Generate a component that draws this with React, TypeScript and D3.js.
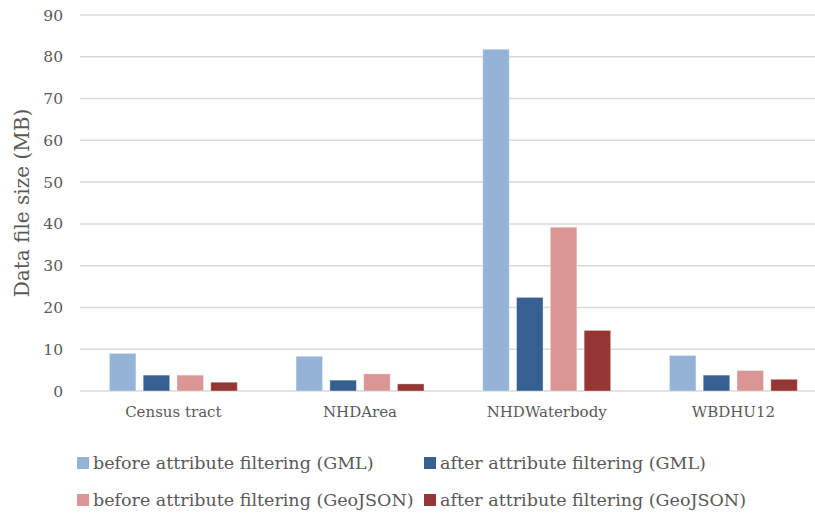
import React from "react";
import * as d3 from "d3";

const categories = ["Census tract", "NHDArea", "NHDWaterbody", "WBDHU12"];
const seriesNames = [
  "before attribute filtering (GML)",
  "after attribute filtering (GML)",
  "before attribute filtering (GeoJSON)",
  "after attribute filtering (GeoJSON)",
];
const beforeGML = [9.0, 8.3, 81.8, 8.5];
const afterGML = [3.8, 2.6, 22.4, 3.8];
const beforeGeoJSON = [3.8, 4.1, 39.2, 4.9];
const afterGeoJSON = [2.1, 1.7, 14.5, 2.8];
const seriesValues = [beforeGML, afterGML, beforeGeoJSON, afterGeoJSON];
const colors = ["#95B3D7", "#376092", "#DA9694", "#963634"];
const yTicks = [0, 10, 20, 30, 40, 50, 60, 70, 80, 90];

const W = 815;
const H = 519;
const FONT = "'DejaVu Serif', serif";
const TXT = "#595959";

export default function App() {
  const x0 = d3.scaleBand<string>().domain(categories).range([80, 80 + 746.7]).padding(0);
  const x1 = d3
    .scaleBand<number>()
    .domain([0, 1, 2, 3])
    .range([29.4, 157.3])
    .paddingInner(0.216)
    .paddingOuter(0);
  const y = d3.scaleLinear().domain([0, 90]).range([391, 15]);

  const legendPos = [
    { x: 77, y: 463 },
    { x: 424, y: 463 },
    { x: 77, y: 500 },
    { x: 424, y: 500 },
  ];

  return (
    <div style={{ position: "absolute", left: 0, top: 0 }}>
      <svg width={W} height={H} style={{ display: "block", background: "#fff" }}>
        {yTicks.map((t) => (
          <g key={t}>
            <line x1={80} x2={W} y1={y(t)} y2={y(t)} stroke="#D9D9D9" strokeWidth={1.5} />
            <text
              x={63}
              y={y(t)}
              dy="0.36em"
              textAnchor="end"
              fontFamily={FONT}
              fontSize={15.5}
              fill={TXT}
            >
              {t}
            </text>
          </g>
        ))}
        {categories.map((c, ci) => (
          <g key={c} transform={`translate(${x0(c)},0)`}>
            {seriesValues.map((vals, si) => (
              <rect
                key={si}
                x={x1(si)}
                y={y(vals[ci])}
                width={x1.bandwidth()}
                height={y(0) - y(vals[ci])}
                fill={colors[si]}
                stroke="#ffffff"
                strokeOpacity={0.35}
                strokeWidth={1}
              />
            ))}
            <text
              x={x0.bandwidth() / 2}
              y={417}
              textAnchor="middle"
              fontFamily={FONT}
              fontSize={15}
              fill={TXT}
            >
              {c}
            </text>
          </g>
        ))}
        <text
          transform={`translate(29,${y(45)}) rotate(-90)`}
          textAnchor="middle"
          fontFamily={FONT}
          fontSize={20}
          fill={TXT}
        >
          Data file size (MB)
        </text>
        {seriesNames.map((s, i) => (
          <g key={s} transform={`translate(${legendPos[i].x},${legendPos[i].y})`}>
            <rect x={0} y={-6} width={12} height={12} fill={colors[i]} />
            <text x={16} y={0} dy="0.36em" fontFamily={FONT} fontSize={17.5} fill={TXT}>
              {s}
            </text>
          </g>
        ))}
      </svg>
    </div>
  );
}
